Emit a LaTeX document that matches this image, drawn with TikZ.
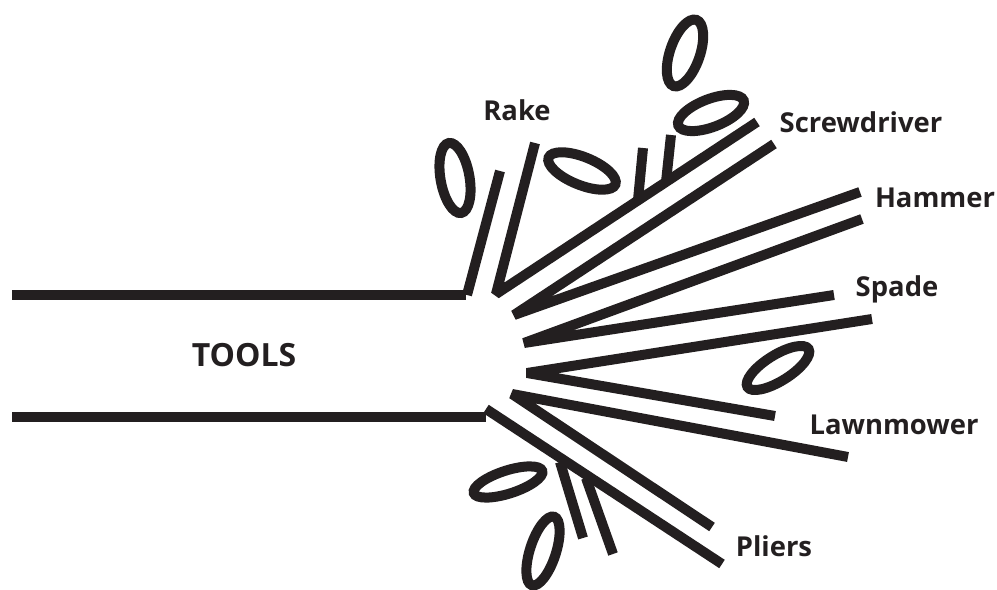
\documentclass[tikz,border=0pt]{standalone}
\usepackage{fontspec}
\setmainfont{Open Sans}
\usepackage{xcolor}
\usepackage{tikz}
\definecolor{ink}{HTML}{231F20}

\begin{document}
\begin{tikzpicture}[x=0.02cm,y=-0.02cm,
	tool/.style={line width=0.2cm,line join=bevel,ink},
	ring/.style={line width=0.2cm,ink},
	lbl/.style={font=\bfseries\fontsize{15.6}{18}\selectfont,anchor=base,inner sep=0pt,text=ink}]
	\useasboundingbox (0,0) rectangle (997,590);
	% hub points where two strokes meet
	\coordinate (v0) at (496,294);
	\coordinate (v1) at (514,315);
	\coordinate (v2) at (524,343);
	\coordinate (v3) at (527,373);
	\coordinate (v4) at (512,394);
	% handle
	\draw[tool] (12,295) -- (466,295);
	\draw[tool] (12,417) -- (486,417);
	\node[lbl,font=\bfseries\fontsize{18.2}{21}\selectfont] (tools) at (244,367) {TOOLS};
	% strokes fanning out
	\draw[tool] (467,295) -- (500,171);
	\draw[tool] (535,143) -- (v0) -- (757,122);
	\draw[tool] (774,144) -- (v1) -- (860,192);
	\draw[tool] (862,219) -- (v2) -- (834,295);
	\draw[tool] (872,319) -- (v3) -- (775,416);
	\draw[tool] (848,457) -- (v4) -- (712,527);
	\draw[tool] (486,409) -- (722,564);
	% short sticks
	\draw[tool] (638,200) -- (643,148);
	\draw[tool] (666,182) -- (671,135);
	\draw[tool] (560,462) -- (583,538);
	\draw[tool] (586,478) -- (613,554);
	% loops
	\draw[ring,rotate around={100:(455,178)}] (455,178) ellipse [x radius=35.5,y radius=14.5];
	\draw[ring,rotate around={71:(685,53)}] (685,53) ellipse [x radius=35,y radius=15];
	\draw[ring,rotate around={-22:(582,171)}] (582,171) ellipse [x radius=36,y radius=14];
	\draw[ring,rotate around={21:(711,113)}] (711,113) ellipse [x radius=35,y radius=14];
	\draw[ring,rotate around={32:(778,368)}] (778,368) ellipse [x radius=36,y radius=13];
	\draw[ring,rotate around={18:(508,482)}] (508,482) ellipse [x radius=36,y radius=11.5];
	\draw[ring,rotate around={72:(543,551)}] (543,551) ellipse [x radius=36,y radius=13];
	% labels
	\node[lbl] (rake) at (517,121) {Rake};
	\node[lbl] (screwdriver) at (861,133) {Screwdriver};
	\node[lbl] (hammer) at (935,208) {Hammer};
	\node[lbl] (spade) at (897,297) {Spade};
	\node[lbl] (lawnmower) at (894,435) {Lawnmower};
	\node[lbl] (pliers) at (774,557) {Pliers};
\end{tikzpicture}
\end{document}
